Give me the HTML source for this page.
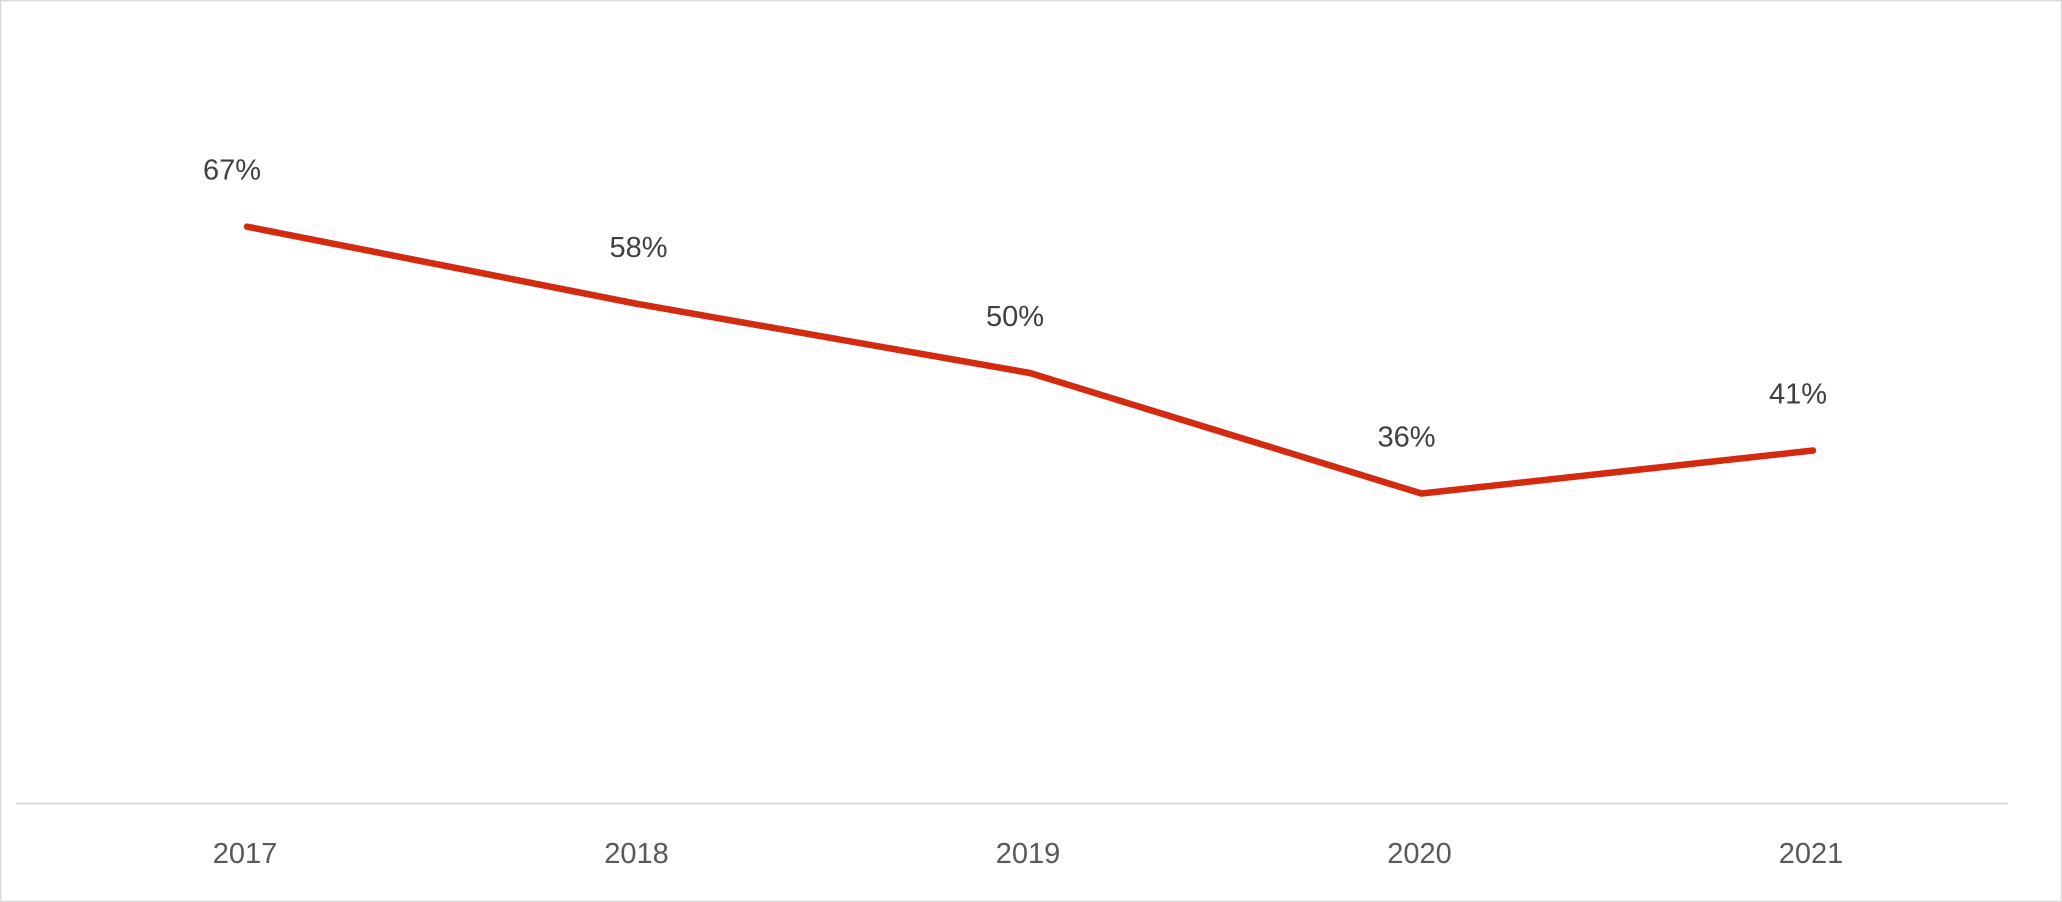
<!DOCTYPE html>
<html><head><meta charset="utf-8"><style>
html,body{margin:0;padding:0;background:#fff;}
svg{display:block;font-family:"Liberation Sans",Arial,sans-serif;}
</style></head><body>
<svg id="chart" width="2062" height="902" viewBox="0 0 2062 902">
<rect x="0.5" y="0.5" width="2061" height="901" fill="#fff" stroke="#d9d9d9" stroke-width="1.5"/>
<line x1="16" y1="803.5" x2="2008" y2="803.5" stroke="#d9d9d9" stroke-width="2"/>
<g id="marks"></g>
</svg>
<script>
const categories = ["2017","2018","2019","2020","2021"];
const values = [67,58,50,36,41];
const valueLabels = ["67%","58%","50%","36%","41%"];
const ns="http://www.w3.org/2000/svg";
function xPos(i){return 247 + i*391.5;}
function yPos(v){return 803.5 - v*8.61;}
const g=document.getElementById('marks');
let d="";
values.forEach((v,i)=>{d+=(i?"L":"M")+xPos(i)+","+yPos(v);});
const p=document.createElementNS(ns,'path');


p.setAttribute('d',d);p.setAttribute('fill','none');p.setAttribute('stroke','#d42a10');
p.setAttribute('stroke-width','6.5');p.setAttribute('stroke-linecap','round');p.setAttribute('stroke-linejoin','round');
g.appendChild(p);
values.forEach((v,i)=>{
  const t=document.createElementNS(ns,'text');
  
  
  t.setAttribute('x',xPos(i)-(i===1?0:15));t.setAttribute('y',yPos(v)-47);
  t.setAttribute('text-anchor','middle');t.setAttribute('font-size','29');t.setAttribute('fill','#404040');
  t.textContent=valueLabels[i];g.appendChild(t);
});
categories.forEach((c,i)=>{
  const t=document.createElementNS(ns,'text');
  
  
  t.setAttribute('x',xPos(i)-2);t.setAttribute('y',863);
  t.setAttribute('text-anchor','middle');t.setAttribute('font-size','29');t.setAttribute('fill','#595959');
  t.textContent=c;g.appendChild(t);
});
</script>
</body></html>
